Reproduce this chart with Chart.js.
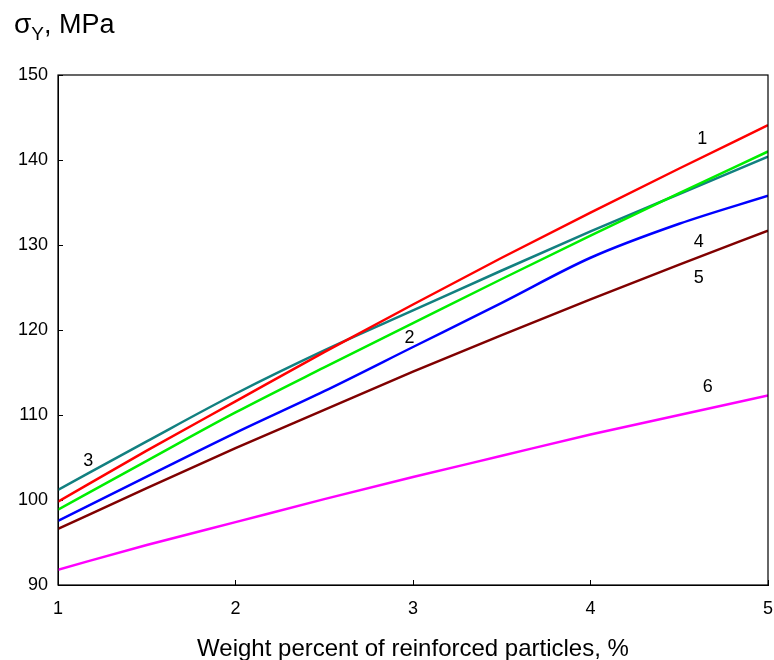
<!DOCTYPE html>
<html>
<head>
<meta charset="utf-8">
<script src="https://cdn.jsdelivr.net/npm/chart.js@4"></script>
<style>
  html, body { margin: 0; padding: 0; background: #fff; }
  #wrap { width: 774px; height: 660px; }
</style>
</head>
<body>
<div id="wrap"><canvas id="chart" width="774" height="660"></canvas></div>
<script>
const FONT = "'Liberation Sans', Arial, sans-serif"

// weight percent of reinforced particles
const weightPct = [1, 1.5, 2, 2.5, 3, 3.5, 4, 4.5, 5]

// yield stress, MPa
const curve1 = [99.8, 105.8, 111.6, 117.4, 123.0, 128.5, 133.8, 139.0, 144.1]
const curve2 = [98.85, 104.6, 110.3, 115.6, 120.8, 126.0, 131.1, 136.1, 141.0]
const curve3 = [101.2, 106.9, 112.5, 117.6, 122.3, 127.0, 131.6, 136.0, 140.4]
const curve4 = [97.55, 102.75, 107.9, 112.8, 118.0, 123.2, 128.5, 132.5, 135.8]
const curve5 = [96.6, 101.4, 106.1, 110.6, 115.1, 119.4, 123.6, 127.7, 131.7]
const curve6 = [91.8, 94.7, 97.4, 100.1, 102.7, 105.2, 107.7, 110.0, 112.3]

const curveColors = ["#ff0000", "#00ee00", "#128080", "#0000ff", "#800000", "#ff00ff"]

// curve number labels placed in data coordinates
const labelText = ["1", "2", "3", "4", "5", "6"]
const labelX = [4.63, 2.98, 1.17, 4.61, 4.61, 4.66]
const labelY = [142.5, 119.0, 104.6, 130.4, 126.1, 113.3]

const yTicks = [90, 100, 110, 120, 130, 140, 150]
const xTicks = [1, 2, 3, 4, 5]

const toPoints = values => values.map((v, i) => ({ x: weightPct[i], y: v }))

const series = [curve1, curve2, curve3, curve4, curve5, curve6]

const frameAndLabels = {
  id: "frameAndLabels",
  afterDraw(chart) {
    const { ctx, chartArea, scales } = chart
    ctx.save()
    ctx.strokeStyle = "#000"
    ctx.lineWidth = 1.2
    ctx.strokeRect(chartArea.left, chartArea.top, chartArea.right - chartArea.left, chartArea.bottom - chartArea.top)

    ctx.fillStyle = "#000"
    ctx.font = "18px " + FONT
    ctx.textAlign = "center"
    ctx.textBaseline = "middle"
    labelText.forEach((t, i) => {
      ctx.fillText(t, scales.x.getPixelForValue(labelX[i]), scales.y.getPixelForValue(labelY[i]))
    })

    // axis title: sigma_Y, MPa
    ctx.textAlign = "left"
    ctx.textBaseline = "alphabetic"
    ctx.font = "28px " + FONT
    let x = 14
    ctx.fillText("σ", x, 33)
    x += ctx.measureText("σ").width
    ctx.font = "19px " + FONT
    ctx.fillText("Y", x, 40)
    x += ctx.measureText("Y").width
    ctx.font = "27px " + FONT
    ctx.fillText(", MPa", x, 33)
    ctx.restore()
  }
}

new Chart(document.getElementById("chart"), {
  type: "line",
  data: {
    datasets: series.map((values, i) => ({
      label: labelText[i],
      data: toPoints(values),
      borderColor: curveColors[i],
      borderWidth: 2.5,
      pointRadius: 0,
      fill: false,
      cubicInterpolationMode: "monotone"
    }))
  },
  options: {
    responsive: false,
    animation: false,
    layout: { padding: { top: 75, right: 6, left: 0, bottom: 0 } },
    plugins: {
      legend: { display: false },
      tooltip: { enabled: false }
    },
    scales: {
      x: {
        type: "linear",
        min: 1,
        max: 5,
        afterBuildTicks: scale => { scale.ticks = xTicks.map(v => ({ value: v })) },
        afterFit: scale => {
          scale.height = 75
          scale.paddingLeft = 0
          scale.paddingRight = 6
        },
        ticks: {
          color: "#000",
          padding: 18,
          font: { size: 18, family: FONT }
        },
        grid: {
          drawOnChartArea: false,
          tickLength: -5,
          color: "#000",
          tickWidth: 1
        },
        border: { color: "#000", width: 1 },
        title: {
          display: true,
          text: "Weight percent of reinforced particles, %",
          color: "#000",
          font: { size: 24, family: FONT },
          padding: { top: 0, bottom: -4 }
        }
      },
      y: {
        min: 90,
        max: 150,
        afterBuildTicks: scale => { scale.ticks = yTicks.map(v => ({ value: v })) },
        afterFit: scale => { scale.width = 58 },
        ticks: {
          color: "#000",
          padding: 15,
          font: { size: 18, family: FONT }
        },
        grid: {
          drawOnChartArea: false,
          tickLength: -5,
          color: "#000",
          tickWidth: 1
        },
        border: { color: "#000", width: 1 }
      }
    }
  },
  plugins: [frameAndLabels]
})
</script>
</body>
</html>
